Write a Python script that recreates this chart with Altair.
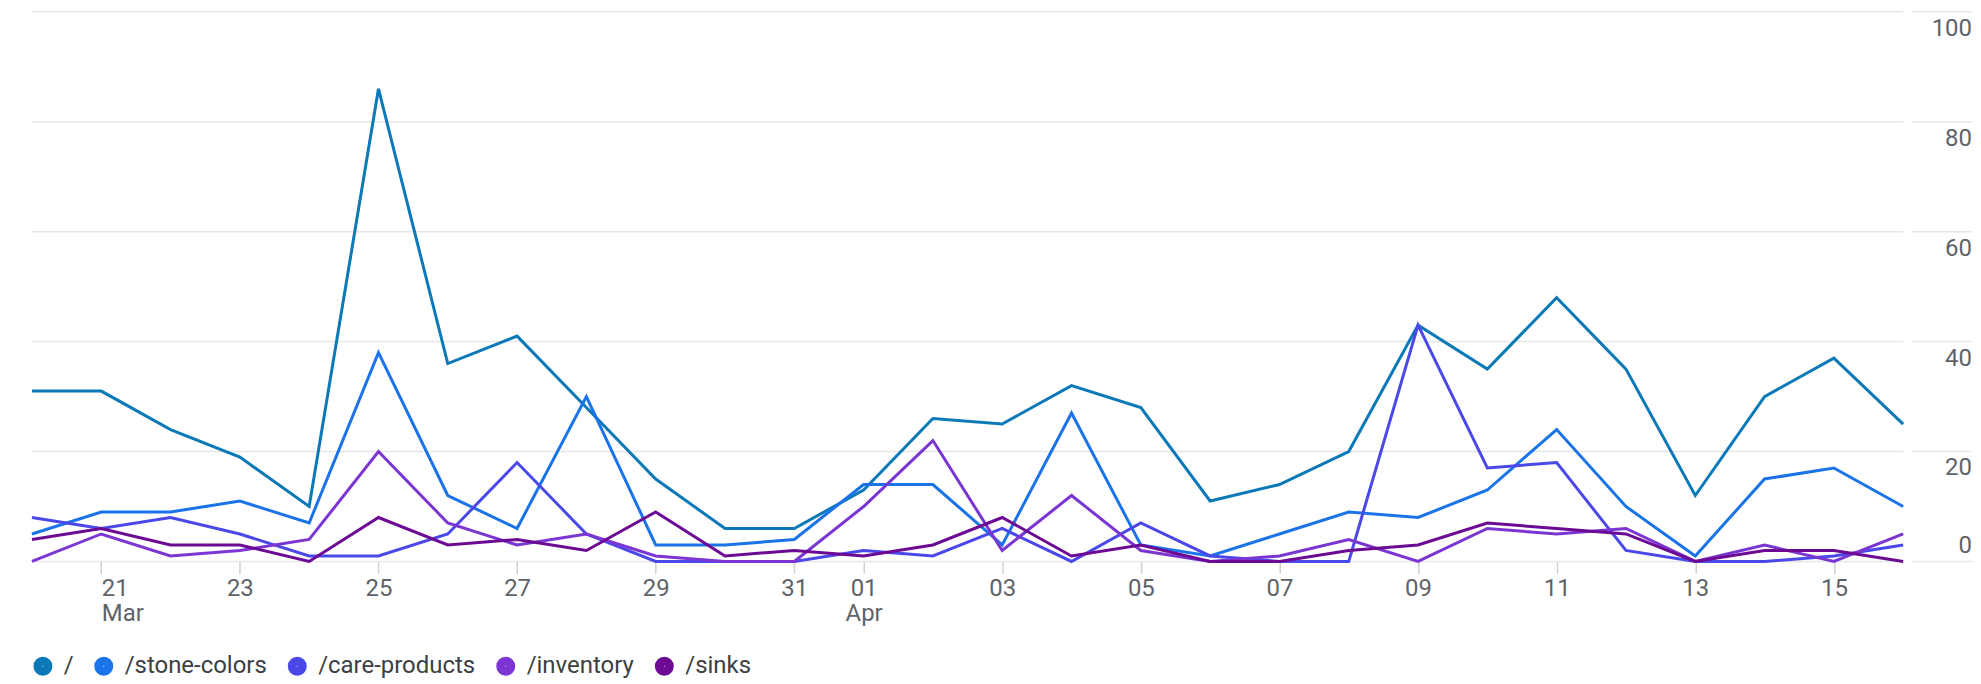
import altair as alt
import pandas as pd

dates = [
    "2024-03-20", "2024-03-21", "2024-03-22", "2024-03-23", "2024-03-24", "2024-03-25",
    "2024-03-26", "2024-03-27", "2024-03-28", "2024-03-29", "2024-03-30", "2024-03-31",
    "2024-04-01", "2024-04-02", "2024-04-03", "2024-04-04", "2024-04-05", "2024-04-06",
    "2024-04-07", "2024-04-08", "2024-04-09", "2024-04-10", "2024-04-11", "2024-04-12",
    "2024-04-13", "2024-04-14", "2024-04-15", "2024-04-16",
]

root = [31, 31, 24, 19, 10, 86, 36, 41, 28, 15, 6, 6,
        13, 26, 25, 32, 28, 11, 14, 20, 43, 35, 48, 35, 12, 30, 37, 25]
stone_colors = [5, 9, 9, 11, 7, 38, 12, 6, 30, 3, 3, 4,
                14, 14, 3, 27, 3, 1, 5, 9, 8, 13, 24, 10, 1, 15, 17, 10]
care_products = [8, 6, 8, 5, 1, 1, 5, 18, 5, 0, 0, 0,
                 2, 1, 6, 0, 7, 1, 0, 0, 43, 17, 18, 2, 0, 0, 1, 3]
inventory = [0, 5, 1, 2, 4, 20, 7, 3, 5, 1, 0, 0,
             10, 22, 2, 12, 2, 0, 1, 4, 0, 6, 5, 6, 0, 3, 0, 5]
sinks = [4, 6, 3, 3, 0, 8, 3, 4, 2, 9, 1, 2,
         1, 3, 8, 1, 3, 0, 0, 2, 3, 7, 6, 5, 0, 2, 2, 0]

series_names = ["/", "/stone-colors", "/care-products", "/inventory", "/sinks"]
series_values = [root, stone_colors, care_products, inventory, sinks]
series_colors = ["#0b79b8", "#1a73e8", "#4b48ea", "#7a35d2", "#6c0a94"]

x_tick_dates = [(2024, 3, d) for d in (21, 23, 25, 27, 29, 31)] + \
               [(2024, 4, d) for d in (1, 3, 5, 7, 9, 11, 13, 15)]
y_ticks = [0, 20, 40, 60, 80, 100]

rows = []
for name, vals in zip(series_names, series_values):
    for d, v in zip(dates, vals):
        rows.append({"date": d, "series": name, "value": v})
df = pd.DataFrame(rows)
grid_df = pd.DataFrame({"v": y_ticks})

W = 1876
H = 551
FONT = "Roboto"
LABEL_GRAY = "#5f6368"

y_scale = alt.Scale(domain=[0, 100], nice=False, zero=True)

grid_main = alt.Chart(grid_df).mark_rule(color="#e6e6e6", strokeWidth=1.5).encode(
    y=alt.Y("v:Q", scale=y_scale, axis=None),
    x=alt.value(0),
    x2=alt.value(W),
)
grid_side = alt.Chart(grid_df).mark_rule(color="#e6e6e6", strokeWidth=1.5).encode(
    y=alt.Y("v:Q", scale=y_scale, axis=None),
    x=alt.value(W + 9),
    x2=alt.value(W + 69),
)

y_labels_upper = alt.Chart(grid_df).transform_filter("datum.v > 0").mark_text(
    align="right", baseline="middle", dy=17, font=FONT, fontSize=24, color=LABEL_GRAY
).encode(
    y=alt.Y("v:Q", scale=y_scale, axis=None),
    x=alt.value(W + 69),
    text=alt.Text("v:Q"),
)
y_labels_zero = alt.Chart(grid_df).transform_filter("datum.v == 0").mark_text(
    align="right", baseline="middle", dy=-15, font=FONT, fontSize=24, color=LABEL_GRAY
).encode(
    y=alt.Y("v:Q", scale=y_scale, axis=None),
    x=alt.value(W + 69),
    text=alt.Text("v:Q"),
)

x_values = [alt.DateTime(year=y, month=m, date=d, utc=True) for (y, m, d) in x_tick_dates]

lines = alt.Chart(df).mark_line(strokeWidth=3, strokeJoin="miter").encode(
    x=alt.X(
        "date:T",
        scale=alt.Scale(type="utc", nice=False, padding=0),
        axis=alt.Axis(
            title=None,
            values=x_values,
            grid=False,
            domain=False,
            ticks=True,
            tickSize=12,
            tickColor="#d0d0d0",
            tickWidth=1.5,
            labelPadding=3,
            labelFont=FONT,
            labelFontSize=24,
            labelColor=LABEL_GRAY,
            labelLineHeight=25,
            labelBaseline="top",
            labelAlign={"condition": {"test": "utcmonth(datum.value) == 2 && utcdate(datum.value) == 21",
                                      "value": "left"}, "value": "center"},
            labelExpr="utcdate(datum.value) == 21 && utcmonth(datum.value) == 2 ? ['21', 'Mar'] : "
                      "(utcdate(datum.value) == 1 && utcmonth(datum.value) == 3 ? ['01', 'Apr'] : "
                      "utcFormat(datum.value, '%d'))",
        ),
    ),
    y=alt.Y("value:Q", scale=y_scale, axis=None),
    color=alt.Color(
        "series:N",
        scale=alt.Scale(domain=series_names, range=series_colors),
        sort=series_names,
        legend=alt.Legend(
            title=None,
            orient="none",
            legendX=-1,
            legendY=644,
            direction="horizontal",
            symbolType="circle",
            symbolSize=100,
            symbolStrokeWidth=9,
            symbolOpacity=1,
            labelFont=FONT,
            labelFontSize=24,
            labelColor="#3c4043",
            labelOffset=9,
            columnPadding=7,
            labelLimit=400,
        ),
    ),
    order=alt.Order("date:T"),
)

chart = alt.layer(grid_main, grid_side, lines, y_labels_upper, y_labels_zero).properties(
    width=W,
    height=H,
    padding={"left": 18, "top": 2, "right": 0, "bottom": 0},
    background="white",
).configure_view(stroke=None)

chart.save("out.html", embed_options={"renderer": "svg", "actions": False})
